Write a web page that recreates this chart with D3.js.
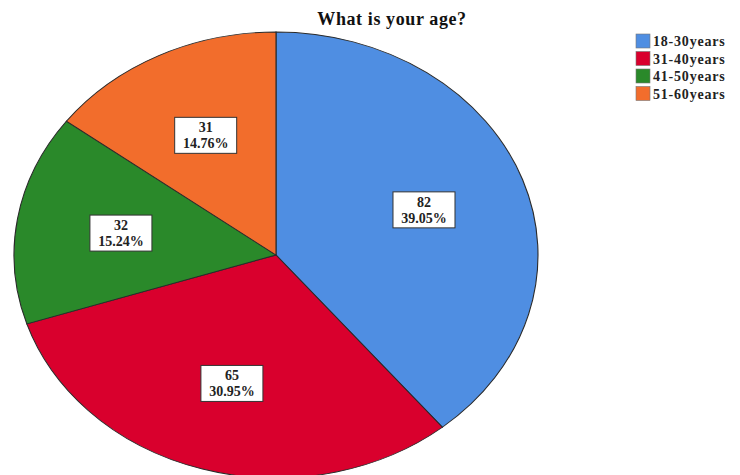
<!DOCTYPE html>
<html>
<head>
<meta charset="utf-8">
<script src="https://cdn.jsdelivr.net/npm/d3@7"></script>
<style>
  body { margin: 0; background: #fff; }
  text { font-family: "Liberation Serif", "DejaVu Serif", serif; font-weight: bold; }
</style>
</head>
<body>
<div id="canvas"></div>
<script>
// data
var Name = ['18-30years', '31-40years', '41-50years', '51-60years']
var Val = [82, 65, 32, 31]
var Pct = ['39.05%', '30.95%', '15.24%', '14.76%']
var Color = ['#4f8ee2', '#d9002d', '#2a892a', '#f26d2c']

var W = 740, H = 475

// pie centre and radii (ellipse)
var cx = 276, cy = 255
var rx = 262, ry = 223

let Svg = d3.select('#canvas')
    .append('svg')
    .attr('width', W)
    .attr('height', H)

// title
Svg.append('text')
    .attr('x', 392)
    .attr('y', 25)
    .attr('text-anchor', 'middle')
    .style('font-size', '18px')
    .style('letter-spacing', '0.6px')
    .style('fill', '#111')
    .text('What is your age?')

let pie = d3.pie().sort(null).value(d => d)
let arcs = pie(Val)

let arc = d3.arc().innerRadius(0).outerRadius(rx)
let labelArc = d3.arc().innerRadius(rx * 0.6).outerRadius(rx * 0.6)

// slices drawn on a circle, squashed into an ellipse
let g = Svg.append('g')
    .attr('transform', 'translate(' + cx + ',' + cy + ') scale(1,' + (ry / rx) + ')')

g.selectAll('path')
    .data(arcs)
    .enter()
    .append('path')
    .attr('d', arc)
    .style('fill', (d, i) => Color[i])
    .style('stroke', '#2a2a2a')
    .style('stroke-width', 1.1)

// labels
let lab = Svg.selectAll('.lab')
    .data(arcs)
    .enter()
    .append('g')
    .attr('class', 'lab')
    .attr('transform', d => {
        let c = labelArc.centroid(d)
        return 'translate(' + (cx + c[0]) + ',' + (cy + c[1] * ry / rx) + ')'
    })

lab.append('rect')
    .attr('x', -31)
    .attr('y', -18)
    .attr('width', 62)
    .attr('height', 36)
    .style('fill', '#fff')
    .style('stroke', '#333')
    .style('stroke-width', 1)

lab.append('text')
    .attr('text-anchor', 'middle')
    .attr('y', -3)
    .style('font-size', '14px')
    .style('fill', '#222')
    .text((d, i) => Val[i])

lab.append('text')
    .attr('text-anchor', 'middle')
    .attr('y', 13)
    .style('font-size', '14px')
    .style('fill', '#222')
    .text((d, i) => Pct[i])

// legend
let leg = Svg.selectAll('.leg')
    .data(Name)
    .enter()
    .append('g')
    .attr('class', 'leg')
    .attr('transform', (d, i) => 'translate(636,' + (34 + i * 17.5) + ')')

leg.append('rect')
    .attr('width', 14)
    .attr('height', 14)
    .style('fill', (d, i) => Color[i])
    .style('stroke', '#777')
    .style('stroke-width', 0.6)

leg.append('text')
    .attr('x', 17)
    .attr('y', 12)
    .style('font-size', '14px')
    .style('letter-spacing', '0.8px')
    .style('fill', '#222')
    .text(d => d)
</script>
</body>
</html>
